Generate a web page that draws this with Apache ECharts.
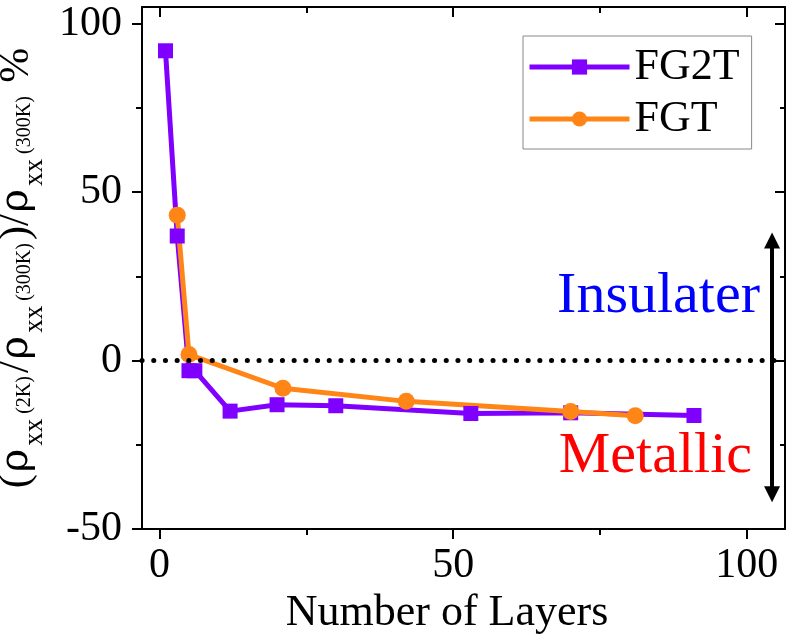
<!DOCTYPE html>
<html>
<head>
<meta charset="utf-8">
<script src="https://cdn.jsdelivr.net/npm/echarts@6/dist/echarts.min.js"></script>
<style>html,body{margin:0;padding:0;background:#fff}#c{width:788px;height:634px}</style>
</head>
<body>
<div id="c"></div>
<script>
// ---- data ----
const fg2tLayers = [1, 3, 5, 6, 12, 20, 30, 53, 70, 91];
const fg2tValues = [92, 37, -3, -3, -15, -13.1, -13.4, -15.7, -15.5, -16.3];
const fgtLayers = [3, 5, 21, 42, 70, 81];
const fgtValues = [43.2, 1.8, -8.2, -12.1, -15.1, -16.4];
const xMajorTicks = [0, 50, 100];
const xMinorTicks = [25, 75];
const yMajorTicks = [-50, 0, 50, 100];
const yMinorTicks = [-25, 25, 75];
const seriesNames = ['FG2T', 'FGT'];
const annotationTop = 'Insulater';
const annotationBottom = 'Metallic';
const arrowX = 104.3;
const arrowEnds = [35.7, -39.7];

const FONT = 'Liberation Serif';
const GREEK = 'DejaVu Serif';
const X_RANGE = { min: -3, max: 106.5 };
const Y_RANGE = { min: -50, max: 105 };

function pairs(xs, ys) { return xs.map((x, i) => [x, ys[i]]); }

function xAx(pos, ticks, len, inside, showLine, extra) {
  return Object.assign({
    type: 'value', gridIndex: 0, position: pos, min: X_RANGE.min, max: X_RANGE.max,
    axisLine: { show: showLine, onZero: false, lineStyle: { color: '#000', width: 2 } },
    axisTick: { show: true, inside: inside, length: len, customValues: ticks, lineStyle: { color: '#000', width: 2 } },
    axisLabel: { show: false },
    splitLine: { show: false }
  }, extra || {});
}
function yAx(pos, ticks, len, inside, showLine, extra) {
  return Object.assign({
    type: 'value', gridIndex: 0, position: pos, min: Y_RANGE.min, max: Y_RANGE.max,
    axisLine: { show: showLine, onZero: false, lineStyle: { color: '#000', width: 2 } },
    axisTick: { show: true, inside: inside, length: len, customValues: ticks, lineStyle: { color: '#000', width: 2 } },
    axisLabel: { show: false },
    splitLine: { show: false }
  }, extra || {});
}

const chart = echarts.init(document.getElementById('c'));
chart.setOption({
  animation: false,
  backgroundColor: '#fff',
  textStyle: { fontFamily: FONT },
  grid: { left: 142, right: 3, top: 7, bottom: 105, containLabel: false, outerBoundsMode: 'none' },
  legend: {
    orient: 'vertical', left: 523, top: 36,
    padding: [6, 12, 5, 4], itemGap: 2,
    itemWidth: 100, itemHeight: 19,
    borderColor: '#888', borderWidth: 1,
    lineStyle: { width: 5 },
    textStyle: { fontFamily: FONT, fontSize: 44, color: '#000', lineHeight: 50 },
    data: seriesNames
  },
  xAxis: [
    xAx('bottom', xMajorTicks, 10, false, true, {
      axisLabel: { show: true, customValues: xMajorTicks, fontFamily: FONT, fontSize: 42, color: '#000', margin: 16 },
      name: 'Number of Layers', nameLocation: 'middle', nameGap: 54,
      nameTextStyle: { fontFamily: FONT, fontSize: 44, color: '#000', padding: [0, 33, 0, 0] }
    }),
    xAx('bottom', xMinorTicks, 6, false, false),
    xAx('top', xMajorTicks, 10, true, true),
    xAx('top', xMinorTicks, 6, true, false)
  ],
  yAxis: [
    yAx('left', yMajorTicks, 10, false, true, {
      axisLabel: { show: true, customValues: yMajorTicks, fontFamily: FONT, fontSize: 42, color: '#000', margin: 20 },
      name: '{m|(}{r|ρ}{s|xx}{p|(2K)}{m|/}{r|ρ}{s|xx}{p|(300K)}{m|)/}{r|ρ}{s|xx}{p|(300K)}{m| %}',
      nameLocation: 'middle', nameRotate: 90, nameGap: 78,
      nameTextStyle: {
        fontFamily: FONT, color: '#000',
        rich: {
          m: { fontFamily: FONT, fontSize: 42, lineHeight: 64, color: '#000' },
          r: { fontFamily: GREEK, fontSize: 40, lineHeight: 64, padding: [0, 1, 0, 2], color: '#000' },
          s: { fontFamily: FONT, fontSize: 27, lineHeight: 27, padding: [36, 4, 0, 2], color: '#000' },
          p: { fontFamily: FONT, fontSize: 20, lineHeight: 20, padding: [16, 3, 0, 1], color: '#000' }
        }
      }
    }),
    yAx('left', yMinorTicks, 6, false, false),
    yAx('right', yMajorTicks, 10, true, true),
    yAx('right', yMinorTicks, 5, true, false)
  ],
  series: [
    {
      name: seriesNames[0], type: 'line', xAxisIndex: 0, yAxisIndex: 0,
      data: pairs(fg2tLayers, fg2tValues),
      symbol: 'rect', symbolSize: 15,
      itemStyle: { color: '#7f00ff' },
      lineStyle: { color: '#7f00ff', width: 5 },
      markLine: {
        silent: true, animation: false,
        symbol: ['none', 'none'],
        label: { show: false },
        emphasis: { disabled: true },
        data: [
          [
            { coord: [arrowX, arrowEnds[0]], symbol: 'triangle', symbolSize: 16 },
            { coord: [arrowX, arrowEnds[1]], symbol: 'triangle', symbolSize: 16 }
          ],
          { yAxis: 0, lineStyle: { color: '#000', width: 5, type: [0.1, 11.6], cap: 'round' } }
        ],
        lineStyle: { color: '#000', width: 4, type: 'solid' },
        itemStyle: { color: '#000' }
      }
    },
    {
      name: seriesNames[1], type: 'line', xAxisIndex: 0, yAxisIndex: 0,
      data: pairs(fgtLayers, fgtValues),
      symbol: 'circle', symbolSize: 17,
      itemStyle: { color: '#ff8517' },
      lineStyle: { color: '#ff8517', width: 5 }
    }
  ],
  graphic: [
    { type: 'text', x: 760, y: 297, silent: true,
      style: { text: annotationTop, fill: '#0000ff', fontFamily: FONT, fontSize: 58, align: 'right', verticalAlign: 'middle' } },
    { type: 'text', x: 752, y: 457, silent: true,
      style: { text: annotationBottom, fill: '#ff0000', fontFamily: FONT, fontSize: 58, align: 'right', verticalAlign: 'middle' } }
  ]
});
</script>
</body>
</html>
